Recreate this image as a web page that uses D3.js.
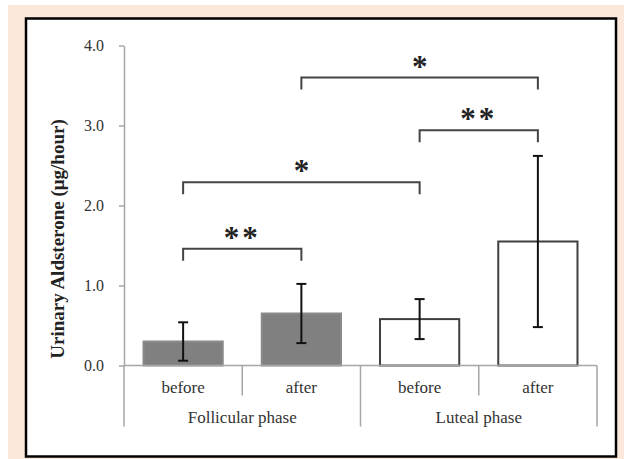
<!DOCTYPE html>
<html lang="en">
<head>
    <meta charset="UTF-8">
    <title>Urinary Aldosterone by phase</title>
    <script src="https://d3js.org/d3.v7.min.js"></script>
    <style>
        html, body {
            margin: 0;
            padding: 0;
            background: #fff;
        }
        svg {
            display: block;
            font-family: "Liberation Serif", "Times New Roman", serif;
        }
        .axis path, .axis line {
            stroke: #a6a6a6;
            stroke-width: 1.5px;
        }
        .axis text {
            font-family: "Liberation Serif", "Times New Roman", serif;
            font-size: 16px;
            fill: #333;
        }
        .err {
            stroke: #111;
            stroke-width: 2px;
        }
        .bracket {
            fill: none;
            stroke: #444;
            stroke-width: 2px;
        }
        .star {
            font-size: 31px;
            font-weight: bold;
            fill: #222;
            text-anchor: middle;
        }
    </style>
</head>
<body>
    <svg id="chart" width="624" height="459"></svg>

    <script>
        // data
        const categories = ["before", "after", "before", "after"];
        const phases = ["Follicular phase", "Luteal phase"];
        const means = [0.30, 0.65, 0.58, 1.55];
        const errors = [0.24, 0.37, 0.25, 1.07];
        const yTicks = [0, 1, 2, 3, 4];

        // significance brackets: from bar, to bar, height (y units), label
        const bracketFrom = [0, 2, 0, 1];
        const bracketTo = [1, 3, 2, 3];
        const bracketLevel = [1.46, 2.94, 2.29, 3.60];
        const bracketLabel = ["**", "**", "*", "*"];

        const svg = d3.select("#chart");

        // peach page + black frame
        svg.append("rect")
            .attr("x", 8).attr("y", 5)
            .attr("width", 616).attr("height", 454)
            .attr("fill", "#fce8da");
        svg.append("rect")
            .attr("x", 26).attr("y", 18.5)
            .attr("width", 590).attr("height", 438)
            .attr("fill", "#fff")
            .attr("stroke", "#000")
            .attr("stroke-width", 2.5);

        const x = d3.scaleBand()
            .domain(d3.range(categories.length))
            .range([124, 597])
            .padding(0);

        const y = d3.scaleLinear()
            .domain([0, 4])
            .range([365.5, 45.5]);

        const barW = x.bandwidth() * 0.67;
        const cx = i => x(i) + x.bandwidth() / 2;

        // y axis
        svg.append("g")
            .attr("class", "axis")
            .attr("transform", "translate(124,0)")
            .call(d3.axisLeft(y).tickValues(yTicks).tickFormat(d3.format(".1f"))
                .tickSize(5).tickSizeOuter(0).tickPadding(15))
            .attr("font-family", null)
            .attr("font-size", null);

        // bars
        svg.selectAll(".bar")
            .data(means)
            .enter()
            .append("rect")
            .attr("class", "bar")
            .attr("x", (d, i) => cx(i) - barW / 2)
            .attr("y", d => y(d))
            .attr("width", barW)
            .attr("height", d => y(0) - y(d))
            .attr("fill", (d, i) => i < 2 ? "#808080" : "#fff")
            .attr("stroke", (d, i) => i < 2 ? "#8a8a8a" : "#404040")
            .attr("stroke-width", 2);

        // x axis baseline + category dividers
        const xg = svg.append("g").attr("class", "axis");
        xg.append("line")
            .attr("x1", 124).attr("x2", x.range()[1])
            .attr("y1", y(0)).attr("y2", y(0));

        // inner dividers between before/after
        phases.forEach((p, k) => {
            const mid = x(k * 2 + 1);
            xg.append("line")
                .attr("x1", mid).attr("x2", mid)
                .attr("y1", y(0)).attr("y2", y(0) + 30);
        });
        // outer dividers around each phase
        d3.range(phases.length + 1).forEach(k => {
            const px = k < phases.length ? x(k * 2) : x.range()[1];
            xg.append("line")
                .attr("x1", px).attr("x2", px)
                .attr("y1", y(0)).attr("y2", y(0) + 61);
        });

        // category labels
        svg.selectAll(".cat")
            .data(categories)
            .enter()
            .append("text")
            .attr("class", "cat")
            .attr("x", (d, i) => cx(i))
            .attr("y", y(0) + 27)
            .attr("text-anchor", "middle")
            .style("font-size", "17px")
            .style("fill", "#333")
            .text(d => d);

        svg.selectAll(".phase")
            .data(phases)
            .enter()
            .append("text")
            .attr("class", "phase")
            .attr("x", (d, k) => x(k * 2 + 1))
            .attr("y", y(0) + 57)
            .attr("text-anchor", "middle")
            .style("font-size", "17px")
            .style("fill", "#333")
            .text(d => d);

        // error bars
        const cap = 5;
        means.forEach((m, i) => {
            const g = svg.append("g").attr("class", "err");
            g.append("line")
                .attr("x1", cx(i)).attr("x2", cx(i))
                .attr("y1", y(m + errors[i])).attr("y2", y(m - errors[i]));
            [m + errors[i], m - errors[i]].forEach(v => {
                g.append("line")
                    .attr("x1", cx(i) - cap).attr("x2", cx(i) + cap)
                    .attr("y1", y(v)).attr("y2", y(v));
            });
        });

        // significance brackets
        bracketLabel.forEach((lab, j) => {
            const x1 = cx(bracketFrom[j]);
            const x2 = cx(bracketTo[j]);
            const yy = y(bracketLevel[j]);
            svg.append("path")
                .attr("class", "bracket")
                .attr("d", `M${x1},${yy + 12}V${yy}H${x2}V${yy + 12}`);
            svg.append("text")
                .attr("class", "star")
                .attr("x", (x1 + x2) / 2)
                .attr("y", yy - 1)
                .style("letter-spacing", lab.length > 1 ? "3px" : "0px")
                .text(lab);
        });

        // y label
        svg.append("text")
            .attr("transform", "translate(57,239) rotate(-90)")
            .attr("text-anchor", "middle")
            .attr("dominant-baseline", "central")
            .style("font-size", "19px")
            .style("font-weight", "bold")
            .style("fill", "#222")
            .text("Urinary Aldsterone (μg/hour)");
    </script>
</body>
</html>
